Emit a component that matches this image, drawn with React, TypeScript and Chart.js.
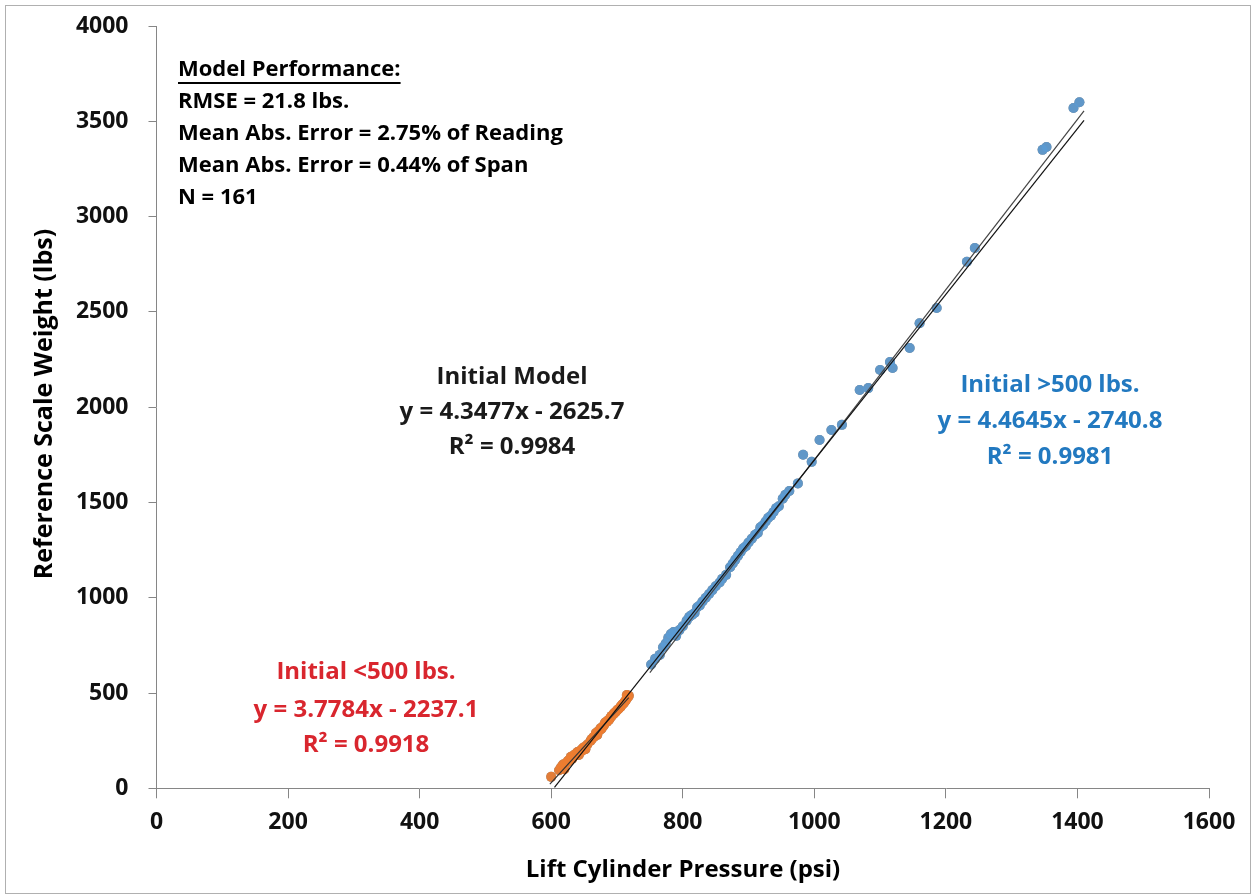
import { useEffect, useRef } from "react";
import { Chart, registerables } from "chart.js";

Chart.register(...registerables);

const FONT = "'Open Sans', Lato, sans-serif";

const xTickValues = [0, 200, 400, 600, 800, 1000, 1200, 1400, 1600];
const yTickValues = [0, 500, 1000, 1500, 2000, 2500, 3000, 3500, 4000];

// Initial <500 lbs. readings (psi, lbs)
const lowPressure = [600, 612, 615, 618, 620, 622, 625, 626, 628, 630, 632, 634, 635, 637, 640, 642, 645, 646, 648, 650, 652, 655, 660, 662, 665, 668, 670, 672, 675, 676, 678, 680, 682, 685, 686, 688, 690, 692, 695, 696, 698, 700, 702, 705, 706, 708, 710, 712, 714, 715, 716, 718];
const lowWeight = [60, 95, 110, 125, 100, 130, 140, 145, 150, 165, 155, 170, 175, 180, 190, 175, 200, 195, 210, 215, 205, 230, 250, 260, 270, 290, 280, 300, 315, 310, 320, 330, 345, 350, 355, 360, 370, 380, 390, 395, 400, 410, 415, 425, 430, 440, 445, 455, 465, 490, 475, 485];

// Initial >500 lbs. readings (psi, lbs)
const highPressure = [752, 758, 765, 770, 774, 778, 782, 786, 790, 795, 800, 806, 810, 814, 818, 822, 826, 830, 835, 840, 845, 850, 856, 860, 866, 872, 876, 880, 884, 888, 892, 896, 900, 905, 910, 914, 918, 922, 926, 930, 934, 938, 942, 946, 952, 956, 962, 975, 983, 996, 1008, 1026, 1042, 1069, 1082, 1100, 1115, 1119, 1145, 1160, 1186, 1232, 1244, 1347, 1353, 1394, 1403];
const highWeight = [650, 680, 700, 740, 760, 790, 810, 820, 800, 830, 850, 880, 900, 910, 920, 950, 960, 980, 1000, 1020, 1040, 1060, 1080, 1100, 1120, 1160, 1180, 1200, 1220, 1240, 1260, 1270, 1290, 1310, 1330, 1340, 1370, 1380, 1400, 1420, 1430, 1450, 1470, 1480, 1520, 1540, 1560, 1600, 1750, 1713, 1828, 1880, 1907, 2090, 2100, 2195, 2237, 2205, 2310, 2440, 2520, 2763, 2835, 3350, 3365, 3570, 3600];

// Trendline coefficients [slope, intercept] and drawn ranges
const initialFit = [4.3477, -2625.7];
const initialRange = [605, 1410];
const highFit = [4.4645, -2740.8];
const highRange = [750, 1410];
const lowFit = [3.7784, -2237.1];
const lowRange = [598, 718];

const toPoints = (xs: number[], ys: number[]) => xs.map((x, i) => ({ x, y: ys[i] }));
const fitLine = (fit: number[], range: number[]) => range.map((x) => ({ x, y: fit[0] * x + fit[1] }));

const textPlugin = {
  id: "texts",
  beforeDraw(chart: any) {
    const ctx = chart.ctx;
    ctx.save();
    ctx.fillStyle = "#ffffff";
    ctx.fillRect(0, 0, chart.width, chart.height);
    ctx.strokeStyle = "#b0b0b0";
    ctx.lineWidth = 1;
    ctx.strokeRect(5.5, 5.5, 1245, 888);
    ctx.restore();
  },
  afterDraw(chart: any) {
    const ctx = chart.ctx;
    ctx.save();
    ctx.textBaseline = "middle";
    ctx.textAlign = "left";
    ctx.fillStyle = "#000";
    ctx.font = `bold 22px ${FONT}`;
    const perf = ["Model Performance:", "RMSE = 21.8 lbs.", "Mean Abs. Error = 2.75% of Reading", "Mean Abs. Error = 0.44% of Span", "N = 161"];
    const perfY = [70, 102, 134, 166, 198];
    perf.forEach((t, i) => ctx.fillText(t, 178, perfY[i]));
    const w = ctx.measureText(perf[0]).width;
    ctx.fillRect(178, 82, w, 2);

    const block = (lines: string[], cx: number, ys: number[], color: string) => {
      ctx.fillStyle = color;
      ctx.textAlign = "center";
      ctx.font = `bold 24px ${FONT}`;
      lines.forEach((t, i) => ctx.fillText(t, cx, ys[i]));
    };
    block(["Initial Model", "y = 4.3477x - 2625.7", "R² = 0.9984"], 512, [377, 412, 447], "#1a1a1a");
    block(["Initial >500 lbs.", "y = 4.4645x - 2740.8", "R² = 0.9981"], 1050, [385, 421, 457], "#2279c0");
    block(["Initial <500 lbs.", "y = 3.7784x - 2237.1", "R² = 0.9918"], 366, [672, 710, 745], "#d9262e");

    ctx.fillStyle = "#000";
    ctx.font = `bold 24px ${FONT}`;
    ctx.textAlign = "center";
    ctx.fillText("Lift Cylinder Pressure (psi)", 683, 870);
    ctx.translate(45, 404);
    ctx.rotate(-Math.PI / 2);
    ctx.font = `bold 25px ${FONT}`;
    ctx.fillText("Reference Scale Weight (lbs)", 0, 0);
    ctx.restore();
  },
};

export default function App() {
  const ref = useRef<HTMLCanvasElement | null>(null);
  useEffect(() => {
    if (!ref.current) return;
    const low = toPoints(lowPressure, lowWeight);
    const high = toPoints(highPressure, highWeight);
    const chart = new Chart(ref.current, {
      type: "scatter",
      data: {
        datasets: [
          { label: "Initial Model fit", type: "line", data: fitLine(initialFit, initialRange), borderColor: "#111", borderWidth: 1.2, pointRadius: 0, showLine: true, order: 0 },
          { label: ">500 fit", type: "line", data: fitLine(highFit, highRange), borderColor: "#444", borderWidth: 1.2, pointRadius: 0, showLine: true, order: 0 },
          { label: "<500 fit", type: "line", data: fitLine(lowFit, lowRange), borderColor: "#333", borderWidth: 1.2, pointRadius: 0, showLine: true, order: 0 },
          { label: "Initial >500 lbs.", data: high, backgroundColor: "rgba(91,155,213,0.85)", borderWidth: 0, pointRadius: 5, order: 1 },
          { label: "Initial <500 lbs.", data: low, backgroundColor: "rgba(237,125,49,0.9)", borderWidth: 0, pointRadius: 5, order: 1 },
          { label: "Initial Model", data: [...low, ...high], backgroundColor: "#7f7f7f", borderWidth: 0, pointRadius: 5, order: 2 },
        ],
      },
      options: {
        animation: false,
        responsive: false,
        maintainAspectRatio: false,
        layout: { padding: { left: 0, top: 26, right: 44, bottom: 0 } },
        plugins: { legend: { display: false }, tooltip: { enabled: false } },
        scales: {
          x: {
            type: "linear",
            min: 0,
            max: 1600,
            afterBuildTicks: (s: any) => { s.ticks = xTickValues.map((v) => ({ value: v })); },
            afterFit: (s: any) => { s.height = 107.7; },
            grid: { drawOnChartArea: false, drawTicks: true, tickLength: 10, color: "#868686" },
            border: { color: "#868686", width: 1 },
            ticks: { color: "#111", font: { family: FONT, size: 23, weight: "bold" }, padding: 10, callback: (v: any) => String(v) },
          },
          y: {
            type: "linear",
            min: 0,
            max: 4000,
            afterBuildTicks: (s: any) => { s.ticks = yTickValues.map((v) => ({ value: v })); },
            afterFit: (s: any) => { s.width = 156.5; s.paddingTop = 10; s.paddingBottom = 10; },
            grid: { drawOnChartArea: false, drawTicks: true, tickLength: 8, color: "#868686" },
            border: { color: "#868686", width: 1 },
            ticks: { color: "#111", font: { family: FONT, size: 23, weight: "bold" }, padding: 20, callback: (v: any) => String(v) },
          },
        },
      },
      plugins: [textPlugin],
    });
    return () => chart.destroy();
  }, []);
  return (
    <div style={{ position: "fixed", left: 0, top: 0, width: 1253, height: 896, background: "#fff" }}>
      <canvas ref={ref} width={1253} height={896} style={{ display: "block", width: 1253, height: 896 }} />
    </div>
  );
}
